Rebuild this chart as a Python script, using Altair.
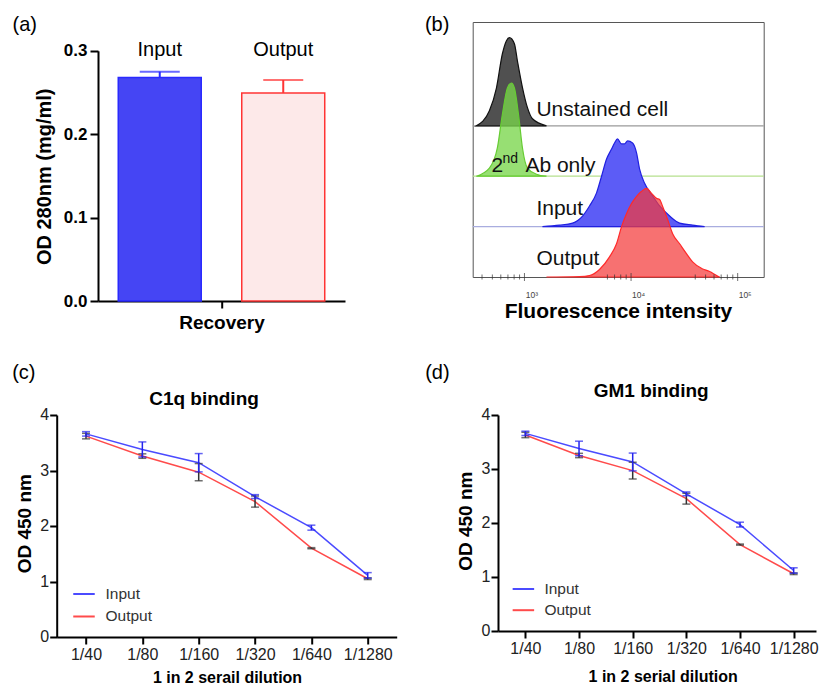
import altair as alt
import pandas as pd

FONT = "Liberation Sans"

# ---------------- (a) protein recovery ----------------
a_groups = ["Input", "Output"]
a_means = [0.268, 0.2495]
a_errs = [0.007, 0.0155]
a_axis_label = ["Recovery"]
a_fill = ["#4545f4", "#fde9e9"]
a_edge = ["#2a2aff", "#ff3434"]

# ---------------- (b) flow cytometry histograms ----------------
b_unst_x = [354, 469, 546, 621, 678, 723, 805, 859, 958, 1067, 1189, 1610]
b_unst_h = [0, 0.30, 0.75, 1.43, 1.69, 1.75, 1.63, 1.29, 0.76, 0.36, 0.14, 0]
b_2nd_x = [354, 469, 557, 621, 692, 755, 805, 879, 958, 1067, 1296, 1610]
b_2nd_h = [0, 0.16, 0.56, 1.23, 1.75, 1.85, 1.75, 1.23, 0.56, 0.16, 0.04, 0]
b_in_x = [1475, 2133, 2825, 3508, 4075, 4747, 5287, 5890, 6561, 7000, 7464, 8145,
          8690, 9273, 10330, 11270, 12030, 13400, 15930, 18530, 23010, 28540, 37770, 48980]
b_in_h = [0, 0.03, 0.07, 0.21, 0.41, 0.67, 1.0, 1.34, 1.54, 1.66, 1.74, 1.64,
          1.64, 1.70, 1.66, 1.46, 1.14, 0.86, 0.61, 0.41, 0.21, 0.07, 0.03, 0]
b_out_x = [1610, 3281, 4075, 5058, 6281, 7307, 8145, 9081, 10120, 11270, 12560, 13990,
           15570, 17340, 18530, 19780, 22030, 24540, 28540, 33200, 37770, 45920, 54560, 63480, 67720]
b_out_h = [0, 0.01, 0.03, 0.15, 0.40, 0.66, 1.0, 1.26, 1.46, 1.60, 1.70, 1.76,
           1.66, 1.56, 1.54, 1.40, 1.14, 0.86, 0.66, 0.46, 0.30, 0.17, 0.11, 0.03, 0]
b_lanes = [3, 2, 1, 0]
b_major = [1000, 10000, 100000]
b_minor = [400, 500, 600, 700, 800, 900, 6000, 7000, 8000, 9000,
           40000, 50000, 60000, 70000, 80000, 90000]
b_text = ["Unstained cell", "2", "nd", "Ab only", "Input", "Output"]
b_text_x = [1296, 490, 621, 1022, 1296, 1296]
b_text_y = [3.187, 2.093, 2.272, 2.093, 1.239, 0.245]
b_text_size = [21, 21, 14, 21, 21, 21]

# ---------------- (c)/(d) ELISA binding ----------------
dil = ["1/40", "1/80", "1/160", "1/320", "1/640", "1/1280"]
c_in = [3.66, 3.38, 3.14, 2.53, 1.97, 1.11]
c_in_err = [0.04, 0.135, 0.165, 0.035, 0.045, 0.05]
c_out = [3.62, 3.26, 2.97, 2.44, 1.60, 1.05]
c_out_err = [0.05, 0.04, 0.155, 0.10, 0.01, 0.015]
d_in = [3.66, 3.38, 3.13, 2.54, 1.97, 1.12]
d_in_err = [0.04, 0.135, 0.165, 0.035, 0.045, 0.05]
d_out = [3.63, 3.25, 2.97, 2.45, 1.60, 1.06]
d_out_err = [0.05, 0.04, 0.155, 0.10, 0.01, 0.015]


def tag_axis(orient, tx, ty):
    return alt.Axis(orient=orient, domain=False, ticks=False, labels=False, grid=False,
                    titleFontSize=20, titleFontWeight="normal", titleColor="black",
                    titleBaseline="alphabetic", titleAlign="left", titleX=tx, titleY=ty)


# ======== panel (a) ========
A_W, A_H = 288, 279
xa_scale = alt.Scale(type="band", domain=a_groups, paddingInner=0.328, paddingOuter=0.164,
                     range=[41.3, 288.3])
xa_axis = alt.Axis(orient="top", domain=False, ticks=False, tickSize=0, labelAngle=0,
                   labelFontSize=20, labelColor="black", labelBaseline="alphabetic",
                   labelPadding=-33.3, grid=False,
                   titleFontSize=20, titleFontWeight="normal", titleColor="black",
                   titleBaseline="alphabetic", titleAlign="left", titleX=-44.7, titleY=8.3)
ya_scale = alt.Scale(domain=[0, 0.3], nice=False, zero=True, range=[279, 28.8])
ya_axis = alt.Axis(values=[0, 0.1, 0.2, 0.3], format=".1f", domainColor="black", domainWidth=2,
                   tickColor="black", tickWidth=2, tickSize=8, labelFontSize=17,
                   labelFontWeight="bold", labelColor="black", labelPadding=3, offset=-41.3,
                   titleFontSize=20, titleFontWeight="bold", titleColor="black",
                   titleAngle=270, titleBaseline="middle", titleAlign="center",
                   titleX=-53, titleY=154.3, grid=False)


def XA():
    return alt.X("group:N", scale=xa_scale, axis=xa_axis, title="(a)")


def YA(f):
    return alt.Y(f, scale=ya_scale, axis=ya_axis, title="OD 280nm (mg/ml)")


inner_a = []
for g, m, e, fc, ec in zip(a_groups, a_means, a_errs, a_fill, a_edge):
    d = pd.DataFrame({"group": [g], "od": [m], "hi": [m + e]})
    inner_a.append(alt.Chart(d).mark_bar(fill=fc, stroke=ec, strokeWidth=1.5)
                   .encode(x=XA(), y=YA("od:Q")))
    inner_a.append(alt.Chart(d).mark_rule(color=ec, strokeWidth=2)
                   .encode(x=XA(), y=YA("od:Q"), y2="hi:Q"))
    inner_a.append(alt.Chart(d).mark_tick(color=ec, thickness=2, size=40, orient="horizontal")
                   .encode(x=XA(), y=YA("hi:Q")))

rec_axis = alt.Axis(orient="bottom", domainColor="black", domainWidth=2, tickColor="black",
                    tickWidth=2, tickSize=7, labelFontSize=19, labelFontWeight="bold",
                    labelColor="black", labelAngle=0, labelBaseline="alphabetic",
                    labelPadding=20, grid=False)
rec = alt.Chart(pd.DataFrame({"label": a_axis_label, "od": [0.0]})).mark_point(opacity=0).encode(
    x=alt.X("label:N", scale=alt.Scale(type="point", padding=0.5, range=[41.3, 288.3]),
            axis=rec_axis, title=None),
    y=YA("od:Q"))

panel_a = alt.layer(alt.layer(*inner_a), rec).resolve_scale(x="independent").resolve_axis(
    x="independent").properties(width=A_W, height=A_H)

# ======== panel (b) ========
xb_scale = alt.Scale(type="log", domain=[327, 175400], nice=False)
yb_scale = alt.Scale(domain=[0, 5.06], nice=False, zero=True)
xb_axis = alt.Axis(orient="bottom", values=b_major,
                   labelExpr="datum.value == 1000 ? '10³' : (datum.value == 10000 ? '10⁴' : '10⁵')",
                   ticks=False, domain=False, labelFontSize=8.5, labelColor="#444",
                   labelBaseline="alphabetic", labelPadding=20, labelOffset=7, labelFlush=False,
                   titleFontSize=21, titleFontWeight="bold", titleColor="black",
                   titleBaseline="alphabetic", titleAlign="center", titleX=145.2, titleY=40.7,
                   grid=False)


def XB(f, axis=None, title=None):
    return alt.X(f, scale=xb_scale, axis=axis, title=title)


def YB(f):
    return alt.Y(f, scale=yb_scale, axis=None)


layers_b = []
for lane, col in zip([3, 2, 1], ["#9a9a9a", "#b6e08e", "#a9addf"]):
    layers_b.append(alt.Chart(pd.DataFrame({"lane": [lane]})).mark_rule(color=col, strokeWidth=1.2)
                    .encode(y=YB("lane:Q")))

series_b = [
    (b_unst_x, b_unst_h, b_lanes[0], "#505050", 1.0, "#111111"),
    (b_2nd_x, b_2nd_h, b_lanes[1], "#7ad64c", 0.78, "#66cc33"),
    (b_in_x, b_in_h, b_lanes[2], "#5c5cf6", 1.0, "#2020e0"),
    (b_out_x, b_out_h, b_lanes[3], "#f43a3a", 0.72, "#ff2a2a"),
]
for xs, hs, lane, fc, op, sc in series_b:
    d = pd.DataFrame({"x": xs, "top": [lane + h for h in hs], "base": [lane] * len(xs)})
    layers_b.append(alt.Chart(d).mark_area(fill=fc, fillOpacity=op, stroke=sc, strokeWidth=1.2,
                                           interpolate="monotone")
                    .encode(x=XB("x:Q"), y=YB("top:Q"), y2="base:Q"))

for vals, sz in [(b_major, 8), (b_minor, 5)]:
    d = pd.DataFrame({"v": vals, "zero": [0] * len(vals)})
    layers_b.append(alt.Chart(d).mark_tick(orient="vertical", size=sz, thickness=1, color="#333")
                    .encode(x=XB("v:Q"), y=YB("zero:Q")))

dtb = pd.DataFrame({"label": b_text, "x": b_text_x, "y": b_text_y, "fs": b_text_size})
layers_b.append(alt.Chart(dtb).mark_text(align="left", baseline="alphabetic", color="#111")
                .encode(x=XB("x:Q"), y=YB("y:Q"), text="label:N",
                        size=alt.Size("fs:Q", scale=None)))

d_axis = pd.DataFrame({"v": b_major, "zero": [0] * len(b_major)})
layers_b.append(alt.Chart(d_axis).mark_point(opacity=0).encode(
    x=XB("v:Q", xb_axis, "Fluorescence intensity"), y=YB("zero:Q")))
layers_b.append(alt.Chart(d_axis).mark_point(opacity=0).encode(
    x=XB("v:Q", tag_axis("top", -48.3, 8.3), "(b)"), y=YB("zero:Q")))

panel_b = alt.layer(*layers_b).resolve_axis(x="independent").properties(
    width=291, height=255, view=alt.ViewBackground(stroke="#555555", strokeWidth=1))


# ======== panels (c), (d) ========
def binding_panel(tag, ttl, xttl, inp, inp_e, out, out_e, W, H, pad, align, tX, tY,
                  xtX, xtY, ytX, ytY, legX, legY, rowPad, labOff, tagX, tagY):
    xs = alt.Scale(type="point", domain=dil, padding=pad, align=align)
    ys = alt.Scale(domain=[0, 4], nice=False, zero=True)
    yax = alt.Axis(values=[0, 1, 2, 3, 4], domainColor="black", domainWidth=2, tickColor="black",
                   tickWidth=2, tickSize=7, labelFontSize=16, labelColor="#222", labelPadding=1,
                   titleFontSize=19, titleFontWeight="bold", titleColor="black", titleAngle=270,
                   titleBaseline="middle", titleAlign="center", titleX=ytX, titleY=ytY, grid=False)
    xbot = alt.Axis(orient="bottom", domainColor="black", domainWidth=2, tickColor="black",
                    tickWidth=2, tickSize=7, labelFontSize=16, labelColor="#222", labelAngle=0,
                    labelBaseline="alphabetic", labelPadding=15.3, titleFontSize=16,
                    titleFontWeight="bold", titleColor="black", titleBaseline="alphabetic",
                    titleAlign="center", titleX=xtX, titleY=xtY, grid=False)
    xtop = alt.Axis(orient="top", domain=False, ticks=False, labels=False, titleFontSize=19,
                    titleFontWeight="bold", titleColor="black", titleBaseline="alphabetic",
                    titleAlign="center", titleX=tX, titleY=tY, grid=False)

    def Y(f):
        return alt.Y(f, scale=ys, axis=yax, title="OD 450 nm")

    dfl = pd.DataFrame({"dil": dil * 2, "series": ["Input"] * 6 + ["Output"] * 6,
                        "val": inp + out})
    leg = alt.Legend(orient="none", legendX=legX, legendY=legY, title=None, symbolType="stroke",
                     symbolSize=462, symbolStrokeWidth=2, labelFontSize=15.5, labelColor="#333",
                     labelOffset=labOff, rowPadding=rowPad, padding=0)
    lines = alt.Chart(dfl).mark_line(strokeWidth=1.5).encode(
        x=alt.X("dil:N", scale=xs, axis=xbot, title=xttl),
        y=Y("val:Q"),
        color=alt.Color("series:N", scale=alt.Scale(domain=["Input", "Output"],
                                                    range=["#4b4bff", "#ff4b4b"]), legend=leg),
        order=alt.Order("series:N", sort="descending"))
    layers = [lines]
    for vals, errs, col in [(out, out_e, "#333333"), (inp, inp_e, "#2323ee")]:
        dfe = pd.DataFrame({"dil": dil, "lo": [v - e for v, e in zip(vals, errs)],
                            "hi": [v + e for v, e in zip(vals, errs)]})
        xe = alt.X("dil:N", scale=xs, axis=None)
        layers.append(alt.Chart(dfe).mark_rule(color=col, strokeWidth=1.5)
                      .encode(x=xe, y=Y("lo:Q"), y2="hi:Q"))
        for f in ["lo:Q", "hi:Q"]:
            layers.append(alt.Chart(dfe).mark_tick(color=col, thickness=1.5, size=8,
                                                   orient="horizontal").encode(x=xe, y=Y(f)))
    layers.append(alt.Chart(dfl).mark_point(opacity=0).encode(
        x=alt.X("dil:N", scale=xs, axis=xtop, title=ttl), y=Y("val:Q")))
    layers.append(alt.Chart(dfl).mark_point(opacity=0).encode(
        x=alt.X("dil:N", scale=xs, axis=tag_axis("top", tagX, tagY), title=tag), y=Y("val:Q")))
    return alt.layer(*layers).resolve_axis(x="independent").properties(width=W, height=H)


panel_c = binding_panel("(c)", "C1q binding", "1 in 2 serail dilution", c_in, c_in_err, c_out,
                        c_out_err, 340, 222, 0.517, 0.503, 146.8, -10, 170.3, 45.5, -31.7, 108.2,
                        15.3, 167, 1.5, 9.5, -45, -36.3)
panel_d = binding_panel("(d)", "GM1 binding", "1 in 2 serial dilution", d_in, d_in_err, d_out,
                        d_out_err, 318, 216, 0.463, 0.551, 152.7, -18.3, 164.7, 50.2, -32.3, 105.7,
                        13.4, 162, 0.2, 9, -73.3, -36.3)

row1 = alt.hconcat(panel_a, panel_b, spacing=79)
row2 = alt.hconcat(panel_c, panel_d, spacing=27.3).resolve_scale(color="independent")

chart = alt.vconcat(row1, row2, spacing=30).resolve_scale(color="independent").properties(
    padding={"left": 3.7, "top": 5, "right": 0, "bottom": 0}
).configure(font=FONT).configure_view(stroke=None)

chart.save("out.html", embed_options={"renderer": "svg", "actions": False})
